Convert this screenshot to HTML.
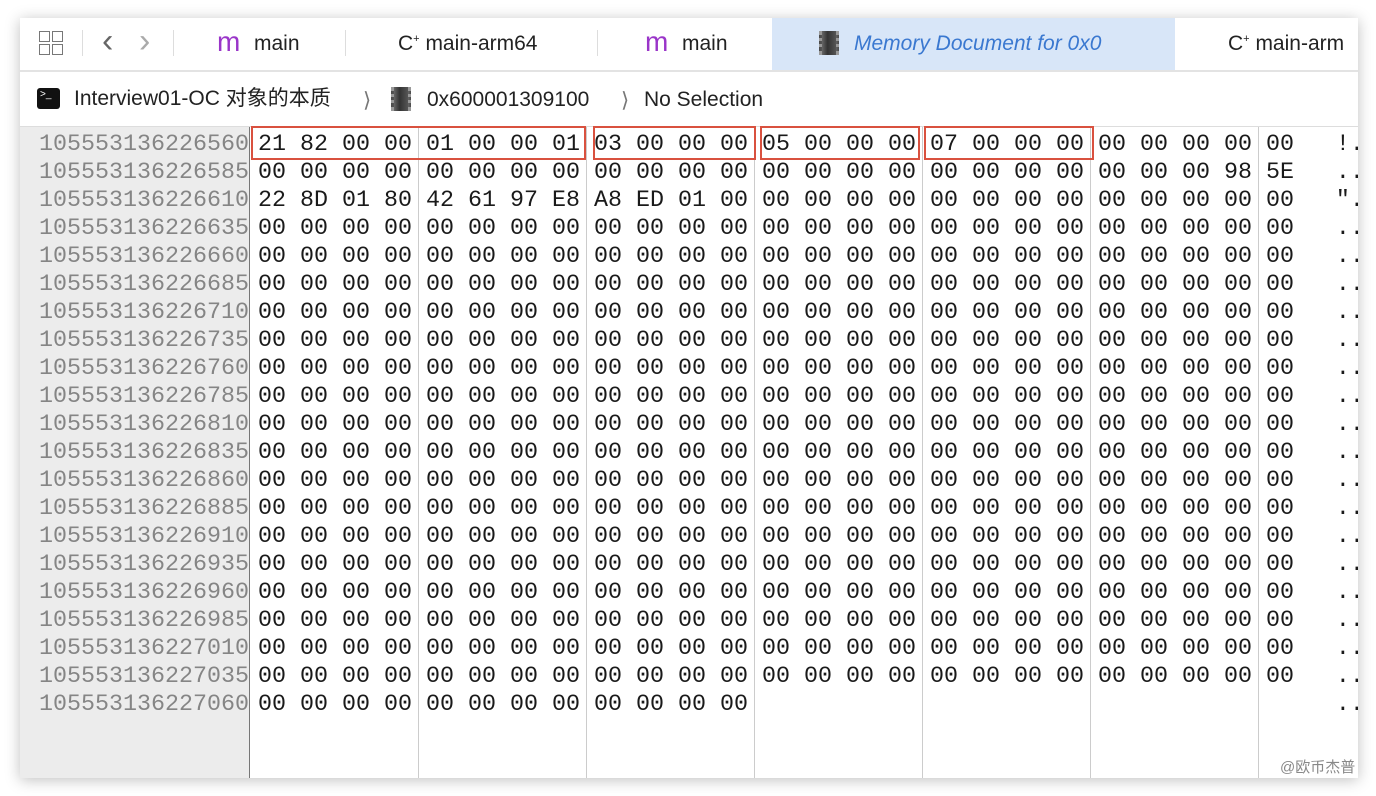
<!DOCTYPE html>
<html><head><meta charset="utf-8"><style>
body{margin:0;width:1376px;height:796px;background:#fff;overflow:hidden;position:relative;font-family:"Liberation Sans","Noto Sans CJK SC",sans-serif}
.win{position:absolute;left:20px;top:18px;width:1338px;height:760px;background:#fff;box-shadow:0 2px 14px rgba(0,0,0,.25);overflow:hidden}
.a{position:absolute;white-space:pre}
.tab{font-size:21px;color:#222;top:14px}
.m{color:#9a35c9;font-size:28px;top:8px}
.vl{position:absolute;width:1px;background:#ddd}
.addr{position:absolute;left:0;top:109px;width:229px;height:651px;background:#ececec;border-right:1px solid #777}
.hex{position:absolute;left:238px;top:113px;font-family:"Liberation Mono",monospace;font-size:23.33px;line-height:28px;color:#1a1a1a;white-space:pre}
.ad{position:absolute;left:0;top:113px;width:229px;font-family:"Liberation Mono",monospace;font-size:23.33px;line-height:28px;color:#858585;white-space:pre;text-align:right;overflow:hidden}
.box{position:absolute;border:2px solid #d9513f;top:108px;height:30px}
.chip{position:absolute;width:14px;height:24px;background:linear-gradient(90deg,#666,#333 40%,#555);border-left:3px dotted #999;border-right:3px dotted #999}
</style></head><body>
<div class="win">
<div class="a" style="left:19px;top:13px;width:9px;height:9px;border:1.5px solid #777"></div>
<div class="a" style="left:32px;top:13px;width:9px;height:9px;border:1.5px solid #777"></div>
<div class="a" style="left:19px;top:26px;width:9px;height:9px;border:1.5px solid #777"></div>
<div class="a" style="left:32px;top:26px;width:9px;height:9px;border:1.5px solid #777"></div>
<div class="vl" style="left:62px;top:12px;height:26px"></div>
<div class="a" style="left:82px;top:4px;font-size:34px;color:#666">&lsaquo;</div>
<div class="a" style="left:119px;top:4px;font-size:34px;color:#aaa">&rsaquo;</div>
<div class="vl" style="left:153px;top:12px;height:26px"></div>
<div class="a m" style="left:197px">m</div><div class="a tab" style="left:234px">main</div>
<div class="vl" style="left:325px;top:12px;height:26px"></div>
<div class="a tab" style="left:378px">C<sup style="font-size:11px">+</sup> main-arm64</div>
<div class="vl" style="left:577px;top:12px;height:26px"></div>
<div class="a m" style="left:625px">m</div><div class="a tab" style="left:662px">main</div>
<div class="a" style="left:752px;top:0;width:403px;height:52px;background:#d8e6f8"></div>
<div class="chip" style="left:799px;top:13px"></div>
<div class="a tab" style="left:834px;color:#3a78d0;font-style:italic">Memory Document for 0x0</div>
<div class="a tab" style="left:1208px">C<sup style="font-size:11px">+</sup> main-arm</div>
<div class="a" style="left:0;top:52px;width:1338px;height:2px;background:#e3e3e3"></div>
<div class="a" style="left:17px;top:70px;width:23px;height:21px;background:#111;border-radius:3px;color:#fff;font-size:10px;line-height:14px;padding-left:3px;box-sizing:border-box">&gt;_</div>
<div class="a tab" style="left:54px;top:68px;line-height:26px">Interview01-OC 对象的本质</div>
<div class="a tab" style="left:343px;top:70px;color:#777">&#x27E9;</div>
<div class="chip" style="left:371px;top:69px"></div>
<div class="a tab" style="left:407px;top:70px">0x600001309100</div>
<div class="a tab" style="left:601px;top:70px;color:#777">&#x27E9;</div>
<div class="a tab" style="left:624px;top:70px">No Selection</div>
<div class="a" style="left:0;top:108px;width:1338px;height:1px;background:#ddd"></div>
<div class="addr"></div>
<div class="vl" style="left:398px;top:109px;height:651px;background:#ccc"></div>
<div class="vl" style="left:566px;top:109px;height:651px;background:#ccc"></div>
<div class="vl" style="left:734px;top:109px;height:651px;background:#ccc"></div>
<div class="vl" style="left:902px;top:109px;height:651px;background:#ccc"></div>
<div class="vl" style="left:1070px;top:109px;height:651px;background:#ccc"></div>
<div class="vl" style="left:1238px;top:109px;height:651px;background:#ccc"></div>
<div class="ad" style="left:-3px;width:232px">105553136226560
105553136226585
105553136226610
105553136226635
105553136226660
105553136226685
105553136226710
105553136226735
105553136226760
105553136226785
105553136226810
105553136226835
105553136226860
105553136226885
105553136226910
105553136226935
105553136226960
105553136226985
105553136227010
105553136227035
105553136227060</div>
<div class="hex">21 82 00 00 01 00 00 01 03 00 00 00 05 00 00 00 07 00 00 00 00 00 00 00 00   !.
00 00 00 00 00 00 00 00 00 00 00 00 00 00 00 00 00 00 00 00 00 00 00 98 5E   ..
22 8D 01 80 42 61 97 E8 A8 ED 01 00 00 00 00 00 00 00 00 00 00 00 00 00 00   ".
00 00 00 00 00 00 00 00 00 00 00 00 00 00 00 00 00 00 00 00 00 00 00 00 00   ..
00 00 00 00 00 00 00 00 00 00 00 00 00 00 00 00 00 00 00 00 00 00 00 00 00   ..
00 00 00 00 00 00 00 00 00 00 00 00 00 00 00 00 00 00 00 00 00 00 00 00 00   ..
00 00 00 00 00 00 00 00 00 00 00 00 00 00 00 00 00 00 00 00 00 00 00 00 00   ..
00 00 00 00 00 00 00 00 00 00 00 00 00 00 00 00 00 00 00 00 00 00 00 00 00   ..
00 00 00 00 00 00 00 00 00 00 00 00 00 00 00 00 00 00 00 00 00 00 00 00 00   ..
00 00 00 00 00 00 00 00 00 00 00 00 00 00 00 00 00 00 00 00 00 00 00 00 00   ..
00 00 00 00 00 00 00 00 00 00 00 00 00 00 00 00 00 00 00 00 00 00 00 00 00   ..
00 00 00 00 00 00 00 00 00 00 00 00 00 00 00 00 00 00 00 00 00 00 00 00 00   ..
00 00 00 00 00 00 00 00 00 00 00 00 00 00 00 00 00 00 00 00 00 00 00 00 00   ..
00 00 00 00 00 00 00 00 00 00 00 00 00 00 00 00 00 00 00 00 00 00 00 00 00   ..
00 00 00 00 00 00 00 00 00 00 00 00 00 00 00 00 00 00 00 00 00 00 00 00 00   ..
00 00 00 00 00 00 00 00 00 00 00 00 00 00 00 00 00 00 00 00 00 00 00 00 00   ..
00 00 00 00 00 00 00 00 00 00 00 00 00 00 00 00 00 00 00 00 00 00 00 00 00   ..
00 00 00 00 00 00 00 00 00 00 00 00 00 00 00 00 00 00 00 00 00 00 00 00 00   ..
00 00 00 00 00 00 00 00 00 00 00 00 00 00 00 00 00 00 00 00 00 00 00 00 00   ..
00 00 00 00 00 00 00 00 00 00 00 00 00 00 00 00 00 00 00 00 00 00 00 00 00   ..
00 00 00 00 00 00 00 00 00 00 00 00                                          ..</div>
<div class="box" style="left:231px;width:331px"></div>
<div class="box" style="left:573px;width:159px"></div>
<div class="box" style="left:740px;width:156px"></div>
<div class="box" style="left:904px;width:166px"></div>
<div class="a" style="left:1260px;top:738px;font-size:15px;color:#888">@欧币杰普</div>
</div>
</body></html>
